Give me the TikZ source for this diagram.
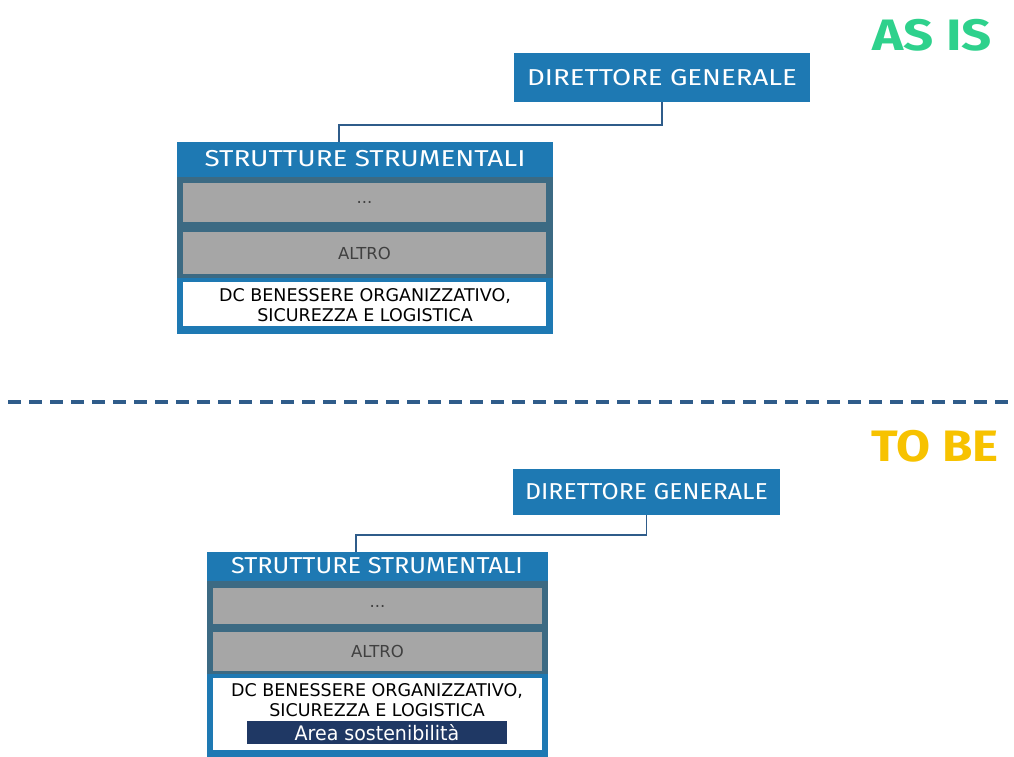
\documentclass[tikz,border=0pt]{standalone}
\usepackage{fontspec}
\setmainfont{DejaVu Sans}
\newfontfamily\handfont{Fira Sans}
\usetikzlibrary{positioning}
\definecolor{orgblue}{HTML}{1E79B3}
\definecolor{slateband}{HTML}{3C6A83}
\definecolor{cellgray}{HTML}{A6A6A6}
\definecolor{areanavy}{HTML}{1F3864}
\definecolor{linkblue}{HTML}{2F5C8A}
\definecolor{asisgreen}{HTML}{2ED18C}
\definecolor{tobeyellow}{HTML}{F7C200}
\tikzset{
  cell/.style={anchor=north west, inner sep=0pt, outer sep=0pt},
  dgbox/.style={cell, fill=orgblue},
  outerbox/.style={cell, fill=orgblue},
  band/.style={cell, fill=slateband},
  graycell/.style={cell, fill=cellgray},
  graytext/.style={text=black!75, inner sep=0pt, font=\fontsize{16.5}{16.5}\selectfont},
  whitecell/.style={cell, fill=white},
  headtext/.style={text=white, font=\handfont\fontsize{23}{23}\selectfont, inner sep=0pt},
  dctext/.style={align=center, font=\fontsize{17.5}{19.5}\selectfont, inner sep=0pt},
  areabox/.style={cell, fill=areanavy},
  link/.style={draw=linkblue, line width=1.8pt},
  phase/.style={font=\handfont\bfseries\fontsize{44}{44}\selectfont, inner sep=0pt}
}
\begin{document}
\begin{tikzpicture}[x=1pt,y=-1pt]
\useasboundingbox (0,0) rectangle (1014,756);

% ---------------- AS IS ----------------
\node[phase, text=asisgreen] (asis) at (932,35) {\scalebox{1.2}[1]{AS IS}};

\node[dgbox, minimum width=296pt, minimum height=49pt] (dgtop) at (514,53) {};
\node[headtext] (dgtoplabel) at (dgtop.center) {\scalebox{1.2}[1]{DIRETTORE GENERALE}};

\node[outerbox, minimum width=376pt, minimum height=192pt] (sstop) at (177,142) {};
\node[headtext] (sstoplabel) at (365,159) {\scalebox{1.21}[1]{STRUTTURE STRUMENTALI}};
\node[band, minimum width=376pt, minimum height=101pt] (bandtop) at (177,177) {};
\node[graycell, minimum width=363pt, minimum height=39pt] (dotstop) at (183,183) {};
\node[graytext] at (dotstop.center) {...};
\node[graycell, minimum width=363pt, minimum height=42pt] (altrotop) at (183,232) {};
\node[graytext] at (altrotop.center) {ALTRO};
\node[whitecell, minimum width=363pt, minimum height=44pt] (dctop) at (183,282) {};
\node[dctext] (dctoplabel) at (365,305) {DC BENESSERE ORGANIZZATIVO,\\SICUREZZA E LOGISTICA};

\coordinate (jointop) at (339,142);
\draw[link] (dgtop.south) -- ++(0,23) -| (jointop);

% ---------------- separator ----------------
\coordinate (sepL) at (8,402);
\coordinate (sepR) at (1012,402);
\draw[draw=linkblue, line width=3.2pt, dash pattern=on 13pt off 8pt] (sepL) -- (sepR);

% ---------------- TO BE ----------------
\node[phase, text=tobeyellow] (tobe) at (935,446) {\scalebox{1.12}[1]{TO BE}};

\node[dgbox, minimum width=267pt, minimum height=46pt] (dgbot) at (513,469) {};
\node[headtext] (dgbotlabel) at (dgbot.center) {\scalebox{1.08}[1]{DIRETTORE GENERALE}};

\node[outerbox, minimum width=341pt, minimum height=210pt] (ssbot) at (207,552) {};
\node[headtext] (ssbotlabel) at (377,566) {\scalebox{1.1}[1]{STRUTTURE STRUMENTALI}};
\node[band, minimum width=341pt, minimum height=93pt] (bandbot) at (207,581) {};
\node[graycell, minimum width=329pt, minimum height=36pt] (dotsbot) at (213,588) {};
\node[graytext] at (dotsbot.center) {...};
\node[graycell, minimum width=329pt, minimum height=39pt] (altrobot) at (213,632) {};
\node[graytext] at (altrobot.center) {ALTRO};
\node[whitecell, minimum width=329pt, minimum height=72pt] (dcbot) at (213,678) {};
\node[dctext] (dcbotlabel) at (377,700) {DC BENESSERE ORGANIZZATIVO,\\SICUREZZA E LOGISTICA};
\node[areabox, minimum width=260pt, minimum height=23pt] (area) at (247,721) {};
\node[text=white, inner sep=0pt, font=\fontsize{20}{20}\selectfont] at (area.center) {\scalebox{0.95}[1]{Area sostenibilità}};

\coordinate (joinbot) at (356,552);
\draw[link] (dgbot.south) -- ++(0,20) -| (joinbot);
\end{tikzpicture}
\end{document}
